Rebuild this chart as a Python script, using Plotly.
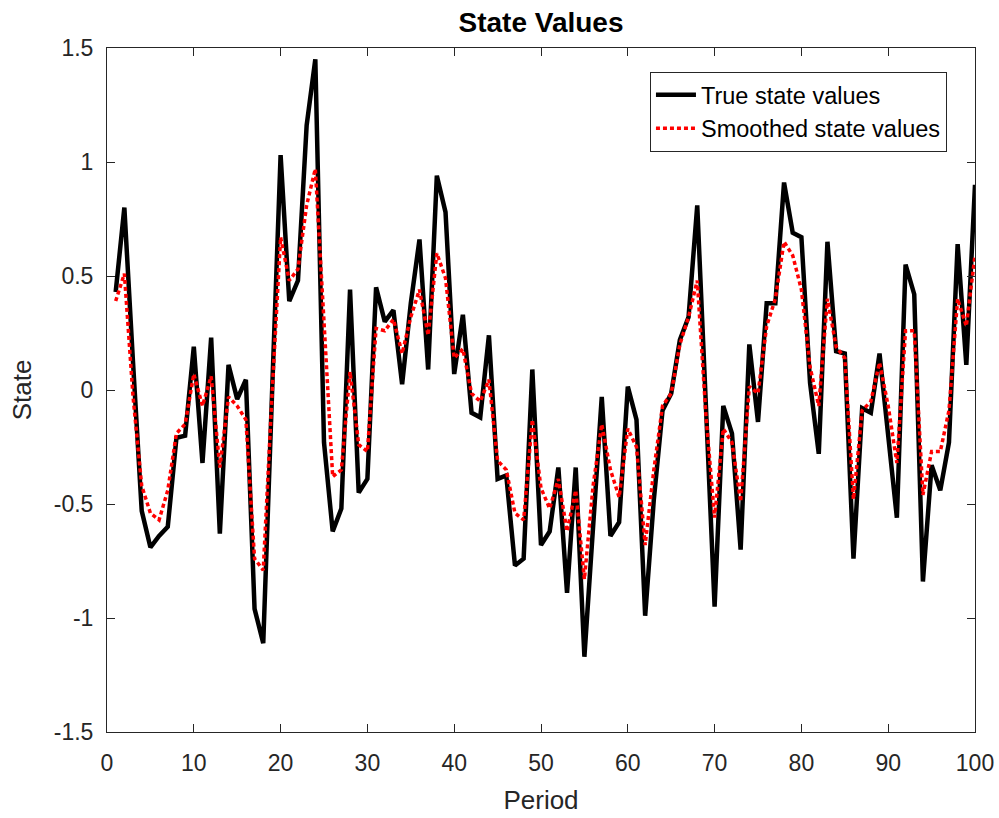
import plotly.graph_objects as go

period = list(range(1, 101))

true_state = [
    0.43, 0.80, 0.12, -0.53, -0.69, -0.64, -0.60, -0.21, -0.20, 0.19,
    -0.32, 0.23, -0.63, 0.11, -0.04, 0.045, -0.96, -1.11, -0.03, 1.03,
    0.39, 0.48, 1.16, 1.45, -0.23, -0.62, -0.52, 0.44, -0.45, -0.39,
    0.45, 0.30, 0.35, 0.025, 0.38, 0.66, 0.09, 0.94, 0.78, 0.07,
    0.33, -0.10, -0.12, 0.24, -0.39, -0.375, -0.77, -0.74, 0.09, -0.68,
    -0.62, -0.34, -0.89, -0.34, -1.17, -0.60, -0.03, -0.64, -0.58, 0.015,
    -0.13, -0.99, -0.48, -0.09, -0.015, 0.22, 0.32, 0.81, -0.08, -0.95,
    -0.07, -0.19, -0.70, 0.20, -0.14, 0.38, 0.38, 0.91, 0.69, 0.67,
    0.03, -0.28, 0.65, 0.17, 0.16, -0.74, -0.08, -0.10, 0.16, -0.20,
    -0.56, 0.55, 0.42, -0.84, -0.33, -0.44, -0.23, 0.64, 0.11, 0.90,
]

smoothed_state = [
    0.39, 0.51, -0.03, -0.42, -0.54, -0.57, -0.44, -0.19, -0.15, 0.07,
    -0.07, 0.06, -0.34, -0.03, -0.07, -0.13, -0.74, -0.79, -0.03, 0.67,
    0.48, 0.53, 0.81, 0.97, 0.30, -0.38, -0.35, 0.08, -0.24, -0.27,
    0.27, 0.26, 0.31, 0.16, 0.32, 0.44, 0.24, 0.60, 0.49, 0.14,
    0.18, -0.015, -0.05, 0.045, -0.31, -0.35, -0.54, -0.57, -0.13, -0.43,
    -0.52, -0.39, -0.62, -0.44, -0.83, -0.42, -0.15, -0.35, -0.47, -0.17,
    -0.25, -0.68, -0.35, -0.07, -0.015, 0.20, 0.32, 0.48, -0.11, -0.56,
    -0.17, -0.23, -0.49, 0.015, -0.015, 0.28, 0.40, 0.65, 0.59, 0.44,
    0.10, -0.07, 0.40, 0.19, 0.14, -0.48, -0.09, -0.05, 0.12, -0.07,
    -0.32, 0.26, 0.26, -0.46, -0.27, -0.27, -0.09, 0.40, 0.28, 0.59,
]

x_ticks = [0, 10, 20, 30, 40, 50, 60, 70, 80, 90, 100]
y_ticks = [-1.5, -1, -0.5, 0, 0.5, 1, 1.5]
y_tick_labels = ["-1.5", "-1", "-0.5", "0", "0.5", "1", "1.5"]

axis_color = "#262626"
font_family = "Liberation Sans, Arial, Helvetica, sans-serif"

fig = go.Figure()
fig.add_trace(go.Scatter(
    x=period, y=true_state, mode="lines", name="True state values",
    line=dict(color="black", width=4.5),
))
fig.add_trace(go.Scatter(
    x=period, y=smoothed_state, mode="lines", name="Smoothed state values",
    line=dict(color="red", width=3.5, dash="4px,3px"),
))

fig.update_layout(
    width=999, height=818,
    margin=dict(l=107, r=24, t=48, b=86),
    paper_bgcolor="white", plot_bgcolor="white",
    font=dict(family=font_family, color=axis_color, size=23),
    title=dict(text="<b>State Values</b>", x=0.5, xref="paper", xanchor="center",
               y=0.9731, yanchor="middle",
               font=dict(size=28, color="black", family=font_family)),
    legend=dict(x=0.9677, y=0.965, xanchor="right", yanchor="top",
                bordercolor=axis_color, borderwidth=1, bgcolor="white",
                font=dict(size=23.5, color="black"),
                tracegroupgap=0, itemwidth=40),
    showlegend=True,
)

fig.update_xaxes(
    range=[0, 100], tickvals=x_ticks, ticks="inside", ticklen=8,
    tickcolor=axis_color, showline=True, linecolor=axis_color, linewidth=1,
    mirror="ticks", showgrid=False, zeroline=False, automargin=False,
    tickfont=dict(size=23, color=axis_color), ticklabelstandoff=10,
    title=dict(text="Period", font=dict(size=26, color=axis_color), standoff=16),
)
fig.update_yaxes(
    range=[-1.5, 1.5], tickvals=y_ticks, ticktext=y_tick_labels,
    ticks="inside", ticklen=8,
    tickcolor=axis_color, showline=True, linecolor=axis_color, linewidth=1,
    mirror="ticks", showgrid=False, zeroline=False, automargin=False,
    tickfont=dict(size=23, color=axis_color), ticklabelstandoff=8,
    title=dict(text="State", font=dict(size=26, color=axis_color), standoff=14),
)

fig.write_html(
    "out.html",
    config={"displayModeBar": False},
    post_script="document.body.style.margin='0';document.body.style.overflow='hidden';",
)
